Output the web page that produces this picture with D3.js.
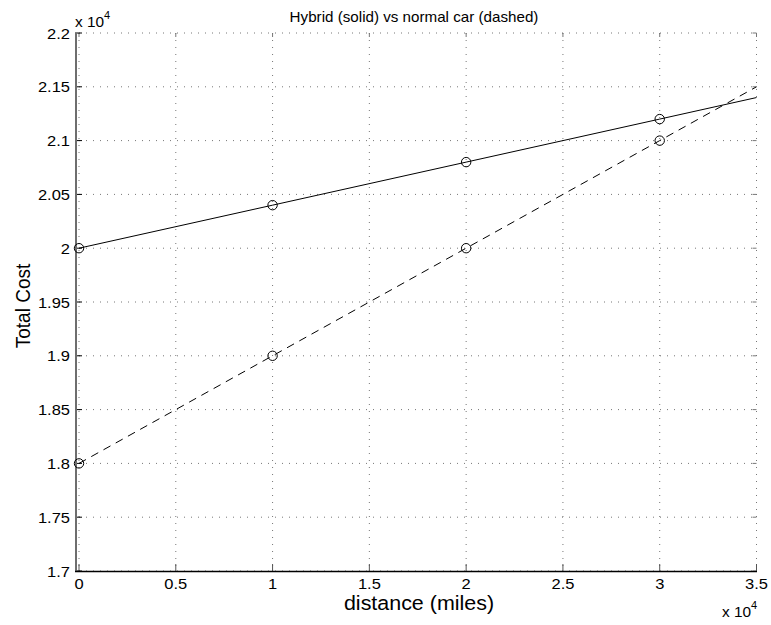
<!DOCTYPE html>
<html><head><meta charset="utf-8">
<script src="https://cdn.jsdelivr.net/npm/d3@7"></script>
<style>body{margin:0;background:#fff}svg{display:block;font-family:"Liberation Sans",Arial,sans-serif}</style>
</head><body><svg id="c" width="771" height="625"></svg>
<script>
const distance = [0, 10000, 20000, 30000, 35000];
const hybridCost = [20000, 20400, 20800, 21200, 21400];
const normalCost = [18000, 19000, 20000, 21000, 21500];
const markerDistance = [0, 10000, 20000, 30000];
const hybridMarkers = [20000, 20400, 20800, 21200];
const normalMarkers = [18000, 19000, 20000, 21000];
const xTicks = [0, 5000, 10000, 15000, 20000, 25000, 30000, 35000];
const xTickLabels = ["0", "0.5", "1", "1.5", "2", "2.5", "3", "3.5"];
const yTicks = [17000, 17500, 18000, 18500, 19000, 19500, 20000, 20500, 21000, 21500, 22000];
const yTickLabels = ["1.7", "1.75", "1.8", "1.85", "1.9", "1.95", "2", "2.05", "2.1", "2.15", "2.2"];
const title = "Hybrid (solid) vs normal car (dashed)";
const xLabel = "distance (miles)";
const yLabel = "Total Cost";

const svg = d3.select("#c");
const L = 79, R = 756.5, T = 33, B = 571;
const SX = 1.1; // horizontal stretch of text
const x = d3.scaleLinear().domain([0, 35000]).range([L, R]);
const y = d3.scaleLinear().domain([17000, 22000]).range([B, T]);
const tr = (px, py) => `translate(${px},${py}) scale(${SX},1)`;

// grid
const g = svg.append("g");
g.selectAll(".vg").data(xTicks).join("line")
  .attr("x1", d => x(d)).attr("x2", d => x(d)).attr("y1", T).attr("y2", B)
  .attr("stroke", "#777").attr("stroke-width", 1).attr("stroke-dasharray", "1,6");
g.selectAll(".hg").data(yTicks).join("line")
  .attr("y1", d => y(d)).attr("y2", d => y(d)).attr("x1", L).attr("x2", R)
  .attr("stroke", "#777").attr("stroke-width", 1).attr("stroke-dasharray", "1,6");

// ticks (inside)
g.selectAll(".xt").data(xTicks).join("line")
  .attr("x1", d => x(d)).attr("x2", d => x(d)).attr("y1", B).attr("y2", B - 7)
  .attr("stroke", "#555");
g.selectAll(".xtt").data(xTicks).join("line")
  .attr("x1", d => x(d)).attr("x2", d => x(d)).attr("y1", T).attr("y2", T + 4)
  .attr("stroke", "#777");
g.selectAll(".yt").data(yTicks).join("line")
  .attr("y1", d => y(d)).attr("y2", d => y(d)).attr("x1", 75).attr("x2", 82)
  .attr("stroke", "#000");
g.selectAll(".ytr").data(yTicks).join("line")
  .attr("y1", d => y(d)).attr("y2", d => y(d)).attr("x1", R).attr("x2", R - 4)
  .attr("stroke", "#777");

// axes lines
svg.append("line").attr("x1", 76).attr("x2", 76).attr("y1", T).attr("y2", B + 1)
  .attr("stroke", "#6e6e6e").attr("stroke-width", 2);
svg.append("line").attr("x1", 75).attr("x2", R + 0.5).attr("y1", B + 0.5).attr("y2", B + 0.5)
  .attr("stroke", "#000").attr("stroke-width", 1.5);

// tick labels
svg.selectAll(".xl").data(xTicks).join("text")
  .attr("transform", d => tr(x(d), 589)).attr("text-anchor", "middle")
  .attr("font-size", 15).text((d, i) => xTickLabels[i]);
svg.selectAll(".yl").data(yTicks).join("text")
  .attr("transform", d => tr(70, y(d) + 5.5)).attr("text-anchor", "end")
  .attr("font-size", 15).text((d, i) => yTickLabels[i]);

// exponents
const e1 = svg.append("text").attr("transform", tr(75, 27)).attr("font-size", 14);
e1.append("tspan").text("x 10");
e1.append("tspan").attr("dy", -8).attr("font-size", 10).text("4");
const e2 = svg.append("text").attr("transform", tr(722, 617)).attr("font-size", 14);
e2.append("tspan").text("x 10");
e2.append("tspan").attr("dy", -8).attr("font-size", 10).text("4");

// title & labels
svg.append("text").attr("transform", tr(414, 22)).attr("text-anchor", "middle")
  .attr("font-size", 13.8).text(title);
svg.append("text").attr("transform", tr(419, 610)).attr("text-anchor", "middle")
  .attr("font-size", 19.5).text(xLabel);
svg.append("text").attr("transform", "translate(30,306) scale(1.1,1) rotate(-90)").attr("text-anchor", "middle")
  .attr("font-size", 19).text(yLabel);

// lines
const line = d3.line().x(d => x(d[0])).y(d => y(d[1]));
svg.append("path").datum(distance.map((d, i) => [d, hybridCost[i]]))
  .attr("d", line).attr("fill", "none").attr("stroke", "#000").attr("stroke-width", 1);
svg.append("path").datum(distance.map((d, i) => [d, normalCost[i]]))
  .attr("d", line).attr("fill", "none").attr("stroke", "#000").attr("stroke-width", 1)
  .attr("stroke-dasharray", "8,6");

svg.selectAll(".mh").data(markerDistance).join("circle")
  .attr("cx", d => x(d)).attr("cy", (d, i) => y(hybridMarkers[i])).attr("r", 4.7)
  .attr("fill", "none").attr("stroke", "#000").attr("stroke-width", 1);
svg.selectAll(".mn").data(markerDistance).join("circle")
  .attr("cx", d => x(d)).attr("cy", (d, i) => y(normalMarkers[i])).attr("r", 4.7)
  .attr("fill", "none").attr("stroke", "#000").attr("stroke-width", 1);
</script></body></html>
